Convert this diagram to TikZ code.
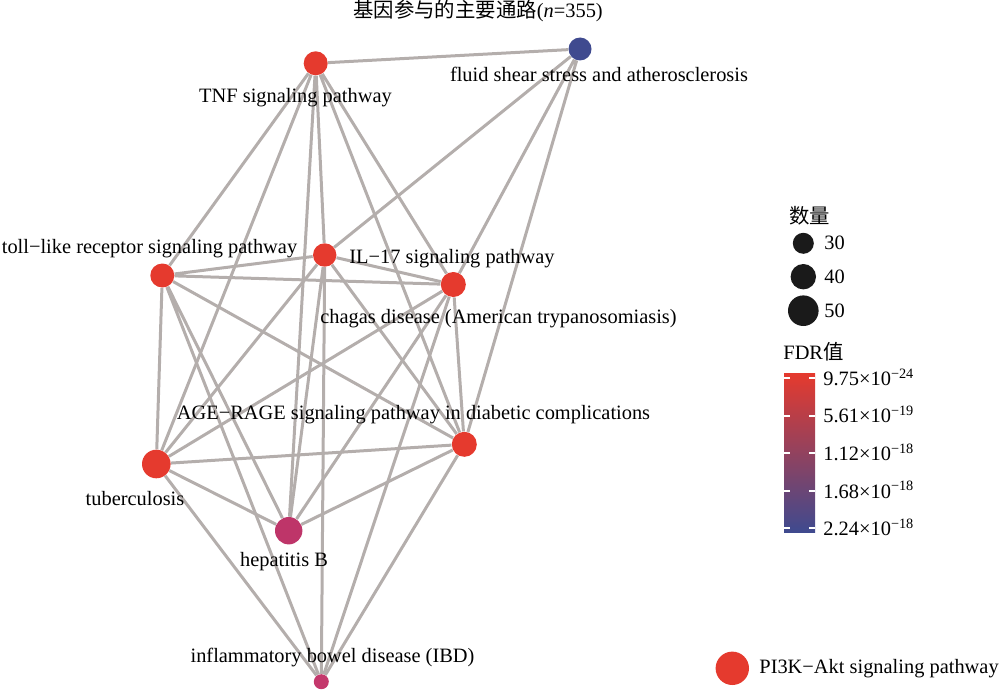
\documentclass[tikz,border=0pt]{standalone}
\usepackage{fontspec}
\setmainfont{Liberation Serif}
\newfontfamily\cjk{Noto Sans CJK SC}
\usepackage{tikz}
\usetikzlibrary{positioning,backgrounds}
\definecolor{pathred}{RGB}{229,58,46}
\definecolor{pathblue}{RGB}{63,74,143}
\definecolor{pathpink}{RGB}{190,53,105}
\definecolor{pathmag}{RGB}{196,56,108}
\definecolor{pathmid}{RGB}{172,48,128}
\definecolor{linkgray}{RGB}{180,174,172}
\definecolor{keyblack}{RGB}{26,26,26}

\begin{document}
\begin{tikzpicture}[
            x=0.5pt, y=-0.5pt,
            font=\fontsize{10.2}{12}\selectfont,
            vpath/.style={circle,inner sep=0pt,fill=pathred},
            vkey/.style={circle,inner sep=0pt,fill=keyblack},
            vlabel/.style={anchor=base,inner sep=0pt},
            klabel/.style={anchor=base west,inner sep=0pt},
            link/.style={draw=linkgray,line width=1.5pt}
          ]
          \useasboundingbox (0,0) rectangle (1000,690);
          % pathways
          \node[vpath, minimum size=12pt] (tnf) at (315.7,63.3) {};
          \node[vpath, fill=pathblue, minimum size=11.5pt] (fluid) at (580,49) {};
          \node[vpath, minimum size=12pt] (toll) at (162.3,275.5) {};
          \node[vpath, minimum size=11.7pt] (il17) at (324.7,255) {};
          \node[vpath, minimum size=12.5pt] (chagas) at (453.3,284.5) {};
          \node[vpath, minimum size=12.5pt] (age) at (464.3,444.3) {};
          \node[vpath, minimum size=14.3pt] (tb) at (156.3,464) {};
          \node[vpath, fill=pathpink, minimum size=13.7pt] (hepb) at (288.7,530.7) {};
          \node[vpath, fill=pathmag, minimum size=7.5pt] (ibd) at (321.3,681.7) {};
          % shared genes
          \begin{scope}[on background layer]
            \draw[link] (tnf) -- (fluid) (tnf) -- (toll) (tnf) -- (il17) (tnf) -- (chagas)
              (tnf) -- (age) (tnf) -- (tb) (tnf) -- (hepb);
            \draw[link] (fluid) -- (il17) (fluid) -- (chagas) (fluid) -- (age);
            \draw[link] (toll) -- (il17) (toll) -- (chagas) (toll) -- (age) (toll) -- (tb)
              (toll) -- (hepb) (toll) -- (ibd);
            \draw[link] (il17) -- (chagas) (il17) -- (tb) (il17) -- (hepb) (il17) -- (ibd)
              (il17) -- (age);
            \draw[link] (chagas) -- (age) (chagas) -- (tb) (chagas) -- (hepb) (chagas) -- (ibd);
            \draw[link] (age) -- (tb) (age) -- (hepb) (age) -- (ibd);
            \draw[link] (tb) -- (hepb) (tb) -- (ibd);
          \end{scope}
          % names
          \node[vlabel] (title) at (478,18) {{\cjk 基因参与的主要通路}(\textit{n}=355)};
          \node[vlabel] (tnflab) at (295.5,103) {TNF signaling pathway};
          \node[vlabel] (fluidlab) at (599,82) {fluid shear stress and atherosclerosis};
          \node[vlabel] (tolllab) at (149.5,253) {toll−like receptor signaling pathway};
          \node[vlabel] (il17lab) at (452,263) {IL−17 signaling pathway};
          \node[vlabel] (chagaslab) at (498.5,323) {chagas disease (American trypanosomiasis)};
          \node[vlabel] (agelab) at (413.5,419) {AGE−RAGE signaling pathway in diabetic complications};
          \node[vlabel] (tblab) at (135,505) {tuberculosis};
          \node[vlabel] (hepblab) at (284,566.5) {hepatitis B};
          \node[vlabel] (ibdlab) at (332.5,662) {inflammatory bowel disease (IBD)};
          % size key
          \node[klabel] (sizetitle) at (789,223) {\cjk 数量};
          \node[vkey, minimum size=10.5pt] (k30) at (803.3,243.3) {};
          \node[vkey, minimum size=12.7pt] (k40) at (803.3,276.7) {};
          \node[vkey, minimum size=15.3pt] (k50) at (803.3,310.7) {};
          \node[anchor=west, inner sep=0pt] (k30lab) at (824,243.3) {30};
          \node[anchor=west, inner sep=0pt] (k40lab) at (824,276.7) {40};
          \node[anchor=west, inner sep=0pt] (k50lab) at (824,310.7) {50};
          % FDR key
          \node[klabel] (fdrtitle) at (783,359) {FDR{\cjk 值}};
          \shade[top color=pathred, middle color=pathmid, bottom color=pathblue]
            (784,373) rectangle (815,532);
          \foreach \t in {378.3,415.7,453.3,491,528.3}
            \draw[white, line width=1pt] (784,\t) -- (790,\t) (809,\t) -- (815,\t);
          \node[klabel] (f1) at (823,385.3) {9.75×10\textsuperscript{−24}};
          \node[klabel] (f2) at (823,422.7) {5.61×10\textsuperscript{−19}};
          \node[klabel] (f3) at (823,460.3) {1.12×10\textsuperscript{−18}};
          \node[klabel] (f4) at (823,498) {1.68×10\textsuperscript{−18}};
          \node[klabel] (f5) at (823,535.3) {2.24×10\textsuperscript{−18}};
          % colour key
          \node[vpath, minimum size=16.7pt] (pikey) at (732.3,668.3) {};
          \node[anchor=west, inner sep=0pt] (pilab) at (759,668.3) {PI3K−Akt signaling pathway};
        \end{tikzpicture}
\end{document}
